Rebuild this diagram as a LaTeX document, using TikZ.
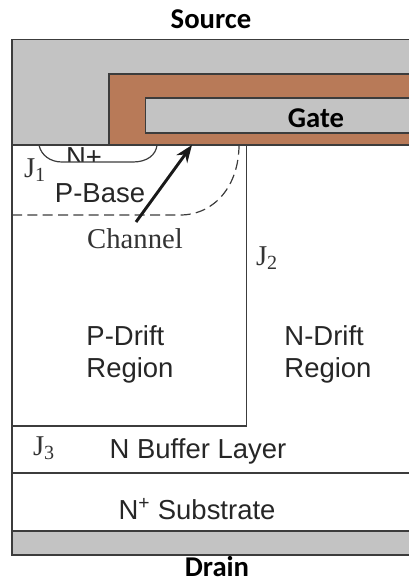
\documentclass[tikz,border=0pt]{standalone}
\usepackage{fontspec}
\setmainfont{Liberation Sans}
\newfontfamily\calibrifont{Carlito}
\newfontfamily\timesfont{Liberation Serif}
\usetikzlibrary{arrows.meta, positioning, calc}
\definecolor{metalcolor}{HTML}{C3C3C3}
\definecolor{oxidecolor}{HTML}{B87A58}
\definecolor{linecolor}{HTML}{3C3C3C}
\begin{document}
\begin{tikzpicture}[
  x=0.75pt, y=-0.75pt,
  layer/.style={draw=linecolor, line width=0.9pt},
  contact/.style={font=\calibrifont\bfseries\fontsize{21.5}{25}\selectfont, text=black, inner sep=0pt},
  region/.style={font=\fontsize{20.6}{24}\selectfont, text=black!85, align=left},
  junction/.style={font=\timesfont\fontsize{21.5}{25}\selectfont, text=black!80},
  arrow/.style={-{Stealth[length=13pt, width=10pt]}, line width=2.2pt, color=black!90},
]
\useasboundingbox (0,0) rectangle (409,582);

%% Metal and oxide
\fill[metalcolor] (12,39.5) rectangle (409,145);
\fill[oxidecolor] (109,74) rectangle (409,145);
\fill[metalcolor] (145.5,98) rectangle (409,133);
\fill[metalcolor] (12,531) rectangle (409,555);
\draw[layer] (409,39.5) -- (12,39.5) -- (12,145);
\draw[layer] (409,74) -- (109,74) -- (109,145);
\draw[layer] (409,98) -- (145.5,98) -- (145.5,133) -- (409,133);

%% Silicon layers
\draw[layer] (12,145) -- (409,145);
\draw[layer] (12,145) -- (12,531);
\draw[layer] (246.5,145) -- (246.5,426) -- (12,426);
\draw[layer] (12,473) -- (409,473);
\draw[layer] (409,531) -- (12,531) -- (12,555) -- (409,555);

%% N+ well and channel edge
\node[region] (nplus) at (84,157) {N+};
\fill[white] (60,162) rectangle (110,172);
\draw[layer] (39,145) .. controls (41,155) and (50,162) .. (62,162) -- (133,162)
  .. controls (147,162) and (156,155) .. (157,145);
\draw[layer, dash pattern=on 7.5pt off 4pt] (12,215) -- (180,215)
  .. controls (215,215) and (239,185) .. (239,145);

%% Labels
\node[contact] (source) at (211,19) {Source};
\node[contact] (gate) at (316,118) {Gate};
\node[contact] (drain) at (217,566.5) {Drain};
\node[region] (pbase) at (100,193) {P-Base};
\node[region, text depth=0pt] (pdrift) at (130,352) {P-Drift\\Region};
\node[region, text depth=0pt] (ndrift) at (328,352) {N-Drift\\Region};
\node[region] (nbuffer) at (198,451) {N Buffer Layer};
\node[region] (nsub) at (197,509) {N\textsuperscript{+} Substrate};
\node[junction] (channel) at (135,239) {Channel};
\node[junction] (jone) at (35,170) {J\textsubscript{1}};
\node[junction] (jtwo) at (267,258) {J\textsubscript{2}};
\node[junction] (jthree) at (44,448) {J\textsubscript{3}};

%% Channel arrow
\coordinate (chtip) at (192,145);
\coordinate (chtail) at (136,222);
\draw[arrow] (chtail) -- (chtip);

\end{tikzpicture}
\end{document}
